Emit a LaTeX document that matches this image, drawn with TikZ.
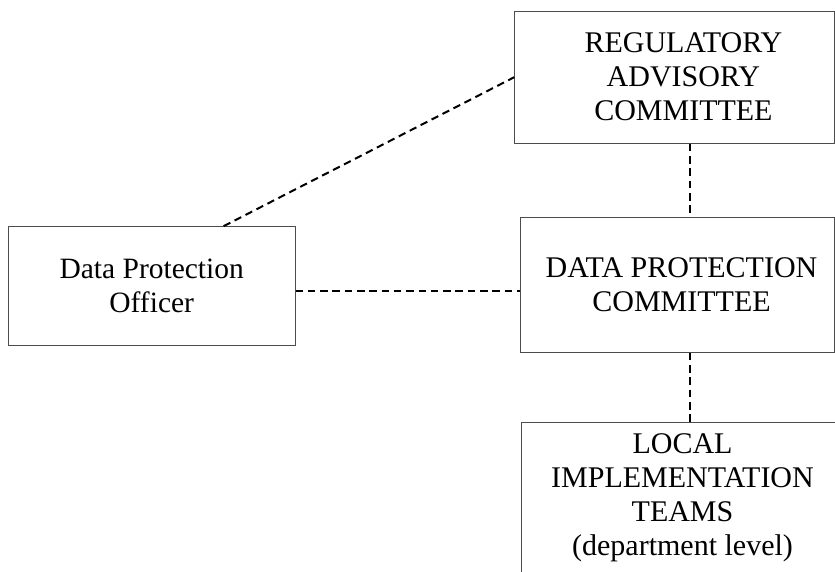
\documentclass[tikz,border=0pt]{standalone}
\usepackage{fontspec}
\setmainfont{Liberation Serif}
\usetikzlibrary{calc}
\begin{document}
\begin{tikzpicture}[x=1pt,y=-1pt,
  box/.style={draw=black!70, line width=1pt, rectangle, inner sep=0pt, fill=none},
  lbl/.style={align=center, font=\fontsize{30}{34}\selectfont, text=black},
  conn/.style={draw=black, line width=2pt, dash pattern=on 7.5pt off 4.8pt}]
\clip (0,0) rectangle (835,572);
\useasboundingbox (0,0) rectangle (835,572);
% boxes
\node[box, minimum width=319.3pt, minimum height=132.3pt,
  label={[lbl, xshift=9pt]center:REGULATORY\\ADVISORY\\COMMITTEE}]
  (rac) at (674.4,77.2) {};
\node[box, minimum width=286.7pt, minimum height=119.3pt,
  label={[lbl, font=\fontsize{29.5}{34}\selectfont]center:Data Protection\\Officer}]
  (dpo) at (151.7,286.3) {};
\node[box, minimum width=314pt, minimum height=135pt,
  label={[lbl, xshift=4.5pt]center:DATA PROTECTION\\COMMITTEE}]
  (dpc) at (677,284.8) {};
\node[box, minimum width=330pt, minimum height=200pt, anchor=north west,
  label={[lbl, anchor=north, yshift=-8pt, xshift=-3.7pt]north:LOCAL\\IMPLEMENTATION\\TEAMS\\(department level)}]
  (lit) at (520.7,422.3) {};
% connectors
\coordinate (vx) at (689.5,0);
\draw[conn] ($(dpo.north west)!0.75!(dpo.north east)$) -- (rac.west);
\draw[conn] (dpo.east |- 0,291) -- (dpc.west |- 0,291);
\draw[conn] (rac.south -| vx) -- (dpc.north -| vx);
\draw[conn] (dpc.south -| vx) -- (lit.north -| vx);
\end{tikzpicture}
\end{document}
